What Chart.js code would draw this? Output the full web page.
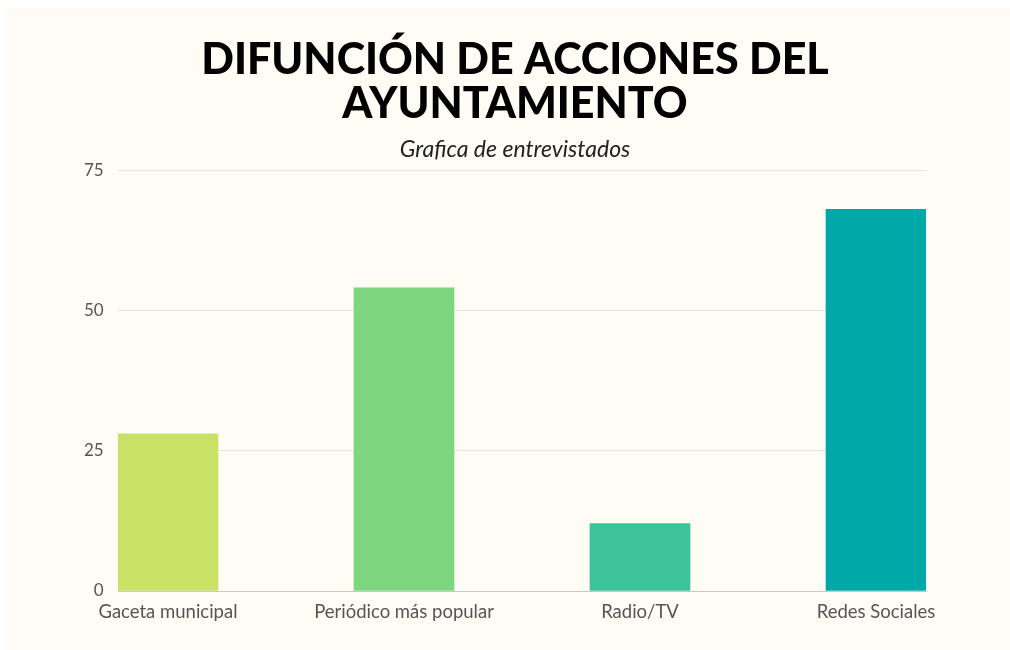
<!DOCTYPE html>
<html lang="es">
<head>
<meta charset="utf-8">
<title>Difunción de acciones del Ayuntamiento</title>
<script src="https://cdn.jsdelivr.net/npm/chart.js@4/dist/chart.umd.min.js"></script>
<style>
    html, body {
        margin: 0;
        padding: 0;
        background: #ffffff;
    }
    #card {
        position: absolute;
        left: 7px;
        top: 9px;
        width: 1003px;
        height: 641px;
        background: #fffbf5;
    }
</style>
</head>
<body>
<div id="card">
    <canvas id="mediaChart" width="1003" height="641"></canvas>
</div>
<script>
// Chart data
const categories = ['Gaceta municipal', 'Periódico más popular', 'Radio/TV', 'Redes Sociales'];
const respondents = [28, 54, 12, 68];
const barColors = ['#c9e265', '#7ed67f', '#3dc398', '#00a9a8'];
const yTicks = [0, 25, 50, 75];

const titleLines = ['DIFUNCIÓN DE ACCIONES DEL', 'AYUNTAMIENTO'];
const subtitleText = 'Grafica de entrevistados';

// each category sits on a whole number of a linear x scale
const barData = respondents.map((v, i) => ({ x: i, y: v }));

const ctx = document.getElementById('mediaChart').getContext('2d');

new Chart(ctx, {
    type: 'bar',
    data: {
        datasets: [{
            data: barData,
            backgroundColor: barColors,
            borderWidth: 0,
            barThickness: 100
        }]
    },
    options: {
        responsive: false,
        animation: false,
        layout: {
            padding: { left: 97, right: 84, top: 0, bottom: 0 }
        },
        plugins: {
            legend: { display: false },
            tooltip: { enabled: false },
            title: {
                display: true,
                text: titleLines,
                color: '#000000',
                font: { family: 'Lato', size: 43, weight: 900, lineHeight: 1.02 },
                padding: { top: 29, bottom: 0 }
            },
            subtitle: {
                display: true,
                text: subtitleText,
                color: '#222222',
                font: { family: 'Lato', size: 23, style: 'italic', lineHeight: 1.2 },
                padding: { top: 10.4, bottom: 6.3 }
            }
        },
        scales: {
            x: {
                type: 'linear',
                offset: false,
                min: -50 / 236,
                max: 3 + 50 / 236,
                grid: { display: false, offset: false },
                border: { display: true, color: '#c8c8c8', width: 1 },
                ticks: {
                    stepSize: 1,
                    includeBounds: false,
                    autoSkip: false,
                    maxRotation: 0,
                    padding: 2,
                    color: '#555555',
                    font: { family: 'Lato', size: 18.5 },
                    callback: function(value) {
                        return Number.isInteger(value) ? categories[value] : '';
                    }
                },
                afterFit: function(scale) {
                    scale.height = 59;
                }
            },
            y: {
                min: yTicks[0],
                max: yTicks[yTicks.length - 1],
                grid: { color: '#e6e3df', lineWidth: 1, drawTicks: false },
                border: { display: false },
                ticks: {
                    stepSize: 25,
                    mirror: true,
                    crossAlign: 'far',
                    padding: -34,
                    color: '#555555',
                    font: { family: 'Lato', size: 17 }
                },
                afterFit: function(scale) {
                    scale.width = 14;
                }
            }
        }
    }
});
</script>
</body>
</html>
